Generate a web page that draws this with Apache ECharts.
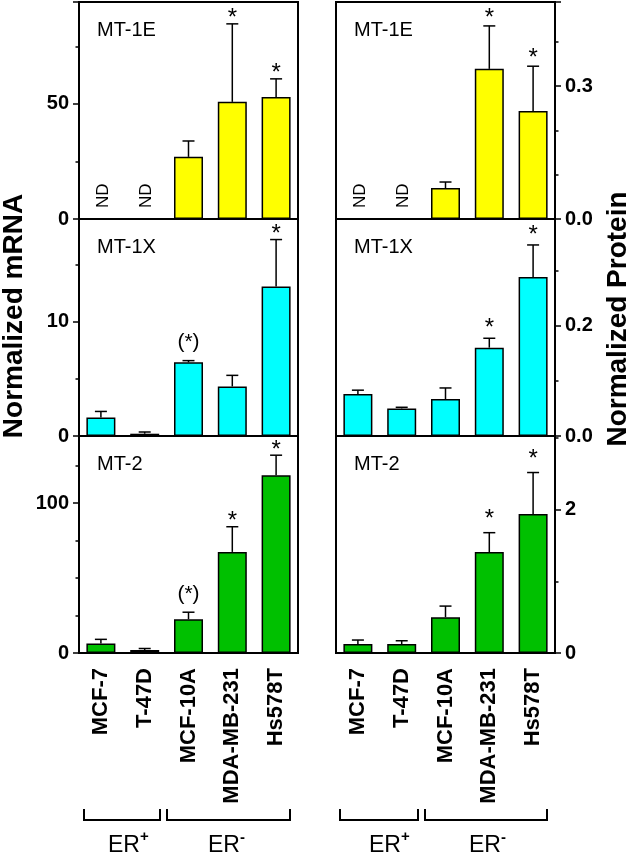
<!DOCTYPE html>
<html><head><meta charset="utf-8">
<script src="https://cdn.jsdelivr.net/npm/echarts@6/dist/echarts.min.js"></script>
<style>html,body{margin:0;padding:0;background:#fff}#c{width:633px;height:855px}</style>
</head><body><div id="c"></div>
<script>
const categories = ['MCF-7', 'T-47D', 'MCF-10A', 'MDA-MB-231', 'Hs578T'];

// Normalized mRNA (left column)
const mrna1E = [null, null, 27.0, 50.9, 53.0];
const mrna1EErr = [null, null, 6.9, 33.9, 7.9];
const mrna1EStars = ['', '', '', '*', '*'];
const mrna1ETicks = ['0', '50'];

const mrna1X = [1.62, 0.2, 6.45, 4.34, 13.1];
const mrna1XErr = [0.53, 0.15, 0.15, 0.97, 4.1];
const mrna1XStars = ['', '', '(*)', '', '*'];
const mrna1XTicks = ['0', '10'];

const mrna2 = [6.4, 2.0, 22.5, 67.4, 118.5];
const mrna2Err = [2.7, 1.0, 4.7, 16.8, 13.4];
const mrna2Stars = ['', '', '(*)', '*', '*'];
const mrna2Ticks = ['0', '100'];

// Normalized Protein (right column)
const prot1E = [null, null, 0.070, 0.339, 0.244];
const prot1EErr = [null, null, 0.0135, 0.097, 0.101];
const prot1EStars = ['', '', '', '*', '*'];
const prot1ETicks = ['0.0', '0.3'];

const prot1X = [0.076, 0.050, 0.067, 0.160, 0.288];
const prot1XErr = [0.007, 0.002, 0.020, 0.017, 0.058];
const prot1XStars = ['', '', '', '*', '*'];
const prot1XTicks = ['0.0', '0.2'];

const prot2 = [0.126, 0.126, 0.50, 1.41, 1.94];
const prot2Err = [0.055, 0.045, 0.155, 0.27, 0.58];
const prot2Stars = ['', '', '', '*', '*'];
const prot2Ticks = ['0', '2'];

const panelNames = ['MT-1E', 'MT-1X', 'MT-2'];
const groupLabels = ['+', '-'];

const FONT = 'Arial, "Liberation Sans", sans-serif';
const colLeft = [79, 336];
const gridW = 219;
const rowTop = [2, 219, 436];
const gridH = 217;
const rowColors = ['#ffff00', '#00ffff', '#00c000'];

const panels = [
  {col:0,row:0,vals:mrna1E,errs:mrna1EErr,stars:mrna1EStars,ticks:mrna1ETicks,max:94.3,interval:50,minor:25,starOff:11},
  {col:0,row:1,vals:mrna1X,errs:mrna1XErr,stars:mrna1XStars,ticks:mrna1XTicks,max:19.0,interval:10,minor:5,starOff:11},
  {col:0,row:2,vals:mrna2,errs:mrna2Err,stars:mrna2Stars,ticks:mrna2Ticks,max:144.7,interval:100,minor:25,starOff:11},
  {col:1,row:0,vals:prot1E,errs:prot1EErr,stars:prot1EStars,ticks:prot1ETicks,max:0.49,interval:0.3,minor:0.1,starOff:14},
  {col:1,row:1,vals:prot1X,errs:prot1XErr,stars:prot1XStars,ticks:prot1XTicks,max:0.393,interval:0.2,minor:0.1,starOff:16},
  {col:1,row:2,vals:prot2,errs:prot2Err,stars:prot2Stars,ticks:prot2Ticks,max:3.03,interval:2,minor:1,starOff:19}
];

const grids = [], xAxes = [], yAxes = [], series = [], titles = [];

panels.forEach((p, i) => {
  grids.push({left: colLeft[p.col], top: rowTop[p.row], width: gridW, height: gridH,
    show: true, borderColor: '#000', borderWidth: 2, backgroundColor: 'transparent',
    outerBoundsMode: 'none', containLabel: false});
  xAxes.push({type: 'category', gridIndex: i, data: categories,
    axisLine: {show: false}, axisTick: {show: false},
    axisLabel: {show: p.row === 2, rotate: 90, interval: 0, margin: 15, fontSize: 22,
      fontWeight: 'bold', color: '#000', fontFamily: FONT},
    splitLine: {show: false}});
  const pos = p.col === 0 ? 'left' : 'right';
  yAxes.push({type: 'value', gridIndex: i, position: pos, min: 0, max: p.max, interval: p.interval,
    axisLine: {show: true, lineStyle: {color: '#000', width: 2}},
    axisTick: {show: true, inside: false, length: 6, lineStyle: {color: '#000', width: 1.5}},
    axisLabel: {show: true, margin: 10, fontSize: 20, fontWeight: 'bold', color: '#000', fontFamily: FONT,
      showMaxLabel: true, hideOverlap: false,
      formatter: (v) => { const k = Math.round(v / p.interval); return (Math.abs(v - k * p.interval) < 1e-9 && p.ticks[k] !== undefined) ? p.ticks[k] : ''; }},
    splitLine: {show: false}});
  yAxes.push({type: 'value', gridIndex: i, position: pos, min: 0, max: p.max, interval: p.minor,
    axisLine: {show: false},
    axisTick: {show: true, inside: false, length: 3.5, lineStyle: {color: '#000', width: 1.5}},
    axisLabel: {show: false}, splitLine: {show: false}});

  series.push({type: 'bar', xAxisIndex: i, yAxisIndex: 2 * i, barWidth: 29,
    data: p.vals, itemStyle: {color: rowColors[p.row], borderColor: '#000', borderWidth: 1.5},
    silent: true, animation: false, z: 2});

  series.push({type: 'custom', xAxisIndex: i, yAxisIndex: 2 * i, z: 3, silent: true, animation: false,
    data: p.vals.map((v, k) => [k, v == null ? 0 : v, p.errs[k] == null ? 0 : p.errs[k]]),
    renderItem: (params, api) => {
      const k = params.dataIndex;
      const v = p.vals[k];
      const children = [];
      if (v == null) {
        const p0 = api.coord([k, 0]);
        children.push({type: 'text', x: p0[0] + 2, y: p0[1] - 11, rotation: Math.PI / 2,
          style: {text: 'ND', font: '17px ' + FONT, fill: '#000', align: 'left', verticalAlign: 'middle'}});
      } else {
        const base = api.coord([k, v]);
        const top = api.coord([k, v + p.errs[k]]);
        children.push({type: 'line', shape: {x1: base[0], y1: base[1], x2: top[0], y2: top[1]},
          style: {stroke: '#000', lineWidth: 1.5}});
        children.push({type: 'line', shape: {x1: top[0] - 6, y1: top[1], x2: top[0] + 6, y2: top[1]},
          style: {stroke: '#000', lineWidth: 1.5}});
        const s = p.stars[k];
        if (s === '*') {
          children.push({type: 'text', x: top[0], y: top[1] - p.starOff + 6,
            style: {text: '*', font: '24px ' + FONT, fill: '#000', align: 'center', verticalAlign: 'middle'}});
        } else if (s) {
          children.push({type: 'text', x: top[0], y: top[1] - 18,
            style: {text: s, font: '21px ' + FONT, fill: '#000', align: 'center', verticalAlign: 'middle'}});
        }
      }
      return {type: 'group', children};
    }});

  titles.push({text: panelNames[p.row], left: colLeft[p.col] + 13, top: rowTop[p.row] + 13,
    textStyle: {fontSize: 20, fontWeight: 'normal', color: '#000', fontFamily: FONT}});
});

const brackets = [[84, 160], [167, 290], [340, 418], [425, 547]];
const erCenters = [124, 224, 385, 485];
const supOffsets = [9, 8, 9, 8];
const graphics = [
  {type: 'text', x: 14, y: 316, rotation: Math.PI / 2,
    style: {text: 'Normalized mRNA', font: 'bold 28px ' + FONT, fill: '#000', align: 'center', verticalAlign: 'middle'}},
  {type: 'text', x: 618, y: 319, rotation: Math.PI / 2,
    style: {text: 'Normalized Protein', font: 'bold 28px ' + FONT, fill: '#000', align: 'center', verticalAlign: 'middle'}}
];
brackets.forEach((b, j) => {
  graphics.push({type: 'polyline', shape: {points: [[b[0], 809], [b[0], 820], [b[1], 820], [b[1], 809]]},
    style: {stroke: '#000', lineWidth: 2, fill: null}});
  graphics.push({type: 'text', x: erCenters[j], y: 846,
    style: {text: 'ER', font: '23px ' + FONT, fill: '#000', align: 'center', verticalAlign: 'middle'}});
  graphics.push({type: 'text', x: erCenters[j] + 16, y: 846 - supOffsets[j],
    style: {text: groupLabels[j % 2], font: 'bold 15px ' + FONT, fill: '#000', align: 'left', verticalAlign: 'middle'}});
});

const chart = echarts.init(document.getElementById('c'), null, {renderer: 'canvas'});
chart.setOption({
  animation: false,
  backgroundColor: '#fff',
  textStyle: {fontFamily: FONT},
  title: titles,
  grid: grids,
  xAxis: xAxes,
  yAxis: yAxes,
  series: series,
  graphic: graphics
});
</script></body></html>
